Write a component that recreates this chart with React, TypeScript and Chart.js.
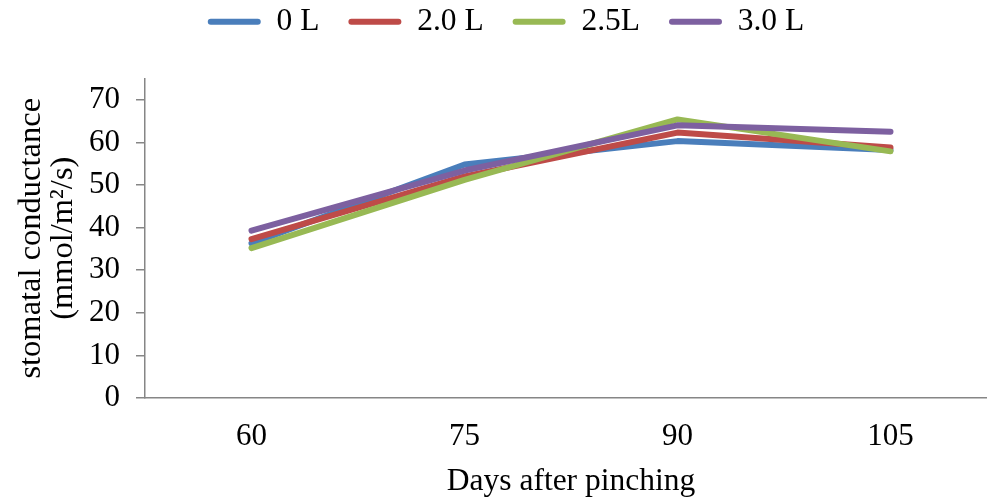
import React, { useEffect, useRef } from "react";
import { Chart, registerables } from "chart.js";

Chart.register(...registerables);

const categories = ["60", "75", "90", "105"];
const seriesNames = ["0 L", "2.0 L", "2.5L", "3.0 L"];
const values0L = [36.3, 54.8, 60.3, 58.2];
const values20L = [37.3, 52.0, 62.3, 58.8];
const values25L = [35.2, 51.2, 65.4, 57.9];
const values30L = [39.3, 53.4, 64.0, 62.5];
const seriesColors = ["#4A7EBB", "#BE4B48", "#98B954", "#7D60A0"];
const yTickValues = [0, 10, 20, 30, 40, 50, 60, 70];

const FONT = "'Liberation Serif', 'Times New Roman', serif";

const legendSpacer = {
  id: "legendSpacer",
  beforeLayout(chart: any) {
    const lg = chart.legend;
    if (lg && !lg._patched) {
      const orig = lg.fit;
      lg.fit = function () {
        orig.call(this);
        this.height += 31;
      };
      lg._patched = true;
    }
  },
};

export default function App() {
  const ref = useRef<HTMLCanvasElement | null>(null);
  useEffect(() => {
    if (!ref.current) return;
    const all = [values0L, values20L, values25L, values30L];
    const chart = new Chart(ref.current, {
      type: "line",
      plugins: [legendSpacer],
      data: {
        labels: categories,
        datasets: all.map((d, i) => ({
          label: seriesNames[i],
          data: d,
          borderColor: seriesColors[i],
          backgroundColor: seriesColors[i],
          borderWidth: 6,
          pointRadius: 0,
          tension: 0,
          borderCapStyle: "round" as const,
          borderJoinStyle: "round" as const,
          order: 4 - i,
        })),
      },
      options: {
        responsive: false,
        animation: false,
        layout: { padding: { left: 15, right: 3, top: -23, bottom: 1 } },
        plugins: {
          tooltip: { enabled: false },
          legend: {
            position: "top",
            labels: {
              boxWidth: 53,
              boxHeight: 6,
              padding: 29,
              useBorderRadius: true,
              color: "#000",
              font: { family: FONT, size: 31.5 },
              generateLabels: (c: any) =>
                c.data.datasets.map((ds: any, i: number) => ({
                  text: ds.label,
                  fillStyle: seriesColors[i],
                  strokeStyle: seriesColors[i],
                  lineWidth: 0,
                  borderRadius: 3,
                  hidden: false,
                  datasetIndex: i,
                  fontColor: "#000",
                })),
              sort: (a: any, b: any) => a.datasetIndex - b.datasetIndex,
            },
          },
        },
        scales: {
          x: {
            offset: true,
            afterFit: (axis: any) => {
              axis.height = 103;
            },
            grid: { display: false, drawTicks: false },
            border: { display: true, color: "#868686", width: 1.5 },
            ticks: {
              color: "#000",
              padding: 20,
              font: { family: FONT, size: 31 },
              maxRotation: 0,
            },
            title: {
              display: true,
              text: "Days after pinching",
              color: "#000",
              font: { family: FONT, size: 31.5 },
              padding: { top: 0, bottom: 0 },
            },
          },
          y: {
            min: 0,
            max: 75,
            afterBuildTicks: (axis: any) => {
              axis.ticks = yTickValues.map((v) => ({ value: v }));
            },
            afterFit: (axis: any) => {
              axis.width = 130;
            },
            grid: {
              drawOnChartArea: false,
              drawTicks: true,
              tickLength: 9,
              color: "#868686",
              lineWidth: 1.5,
            },
            border: { display: true, color: "#868686", width: 1.5 },
            ticks: {
              color: "#000",
              padding: 16,
              font: { family: FONT, size: 31 },
            },
            title: {
              display: true,
              text: ["stomatal conductance", "(mmol/m²/s)"],
              color: "#000",
              font: { family: FONT, size: 32.5, lineHeight: 1.0 },
              padding: { top: 0, bottom: 0 },
            },
          },
        },
      },
    });
    return () => chart.destroy();
  }, []);
  return (
    <div
      style={{
        position: "fixed",
        left: 0,
        top: 0,
        width: 987,
        height: 502,
        overflow: "hidden",
        background: "#fff",
      }}
    >
      <canvas ref={ref} width={1000} height={502} style={{ display: "block" }} />
    </div>
  );
}
